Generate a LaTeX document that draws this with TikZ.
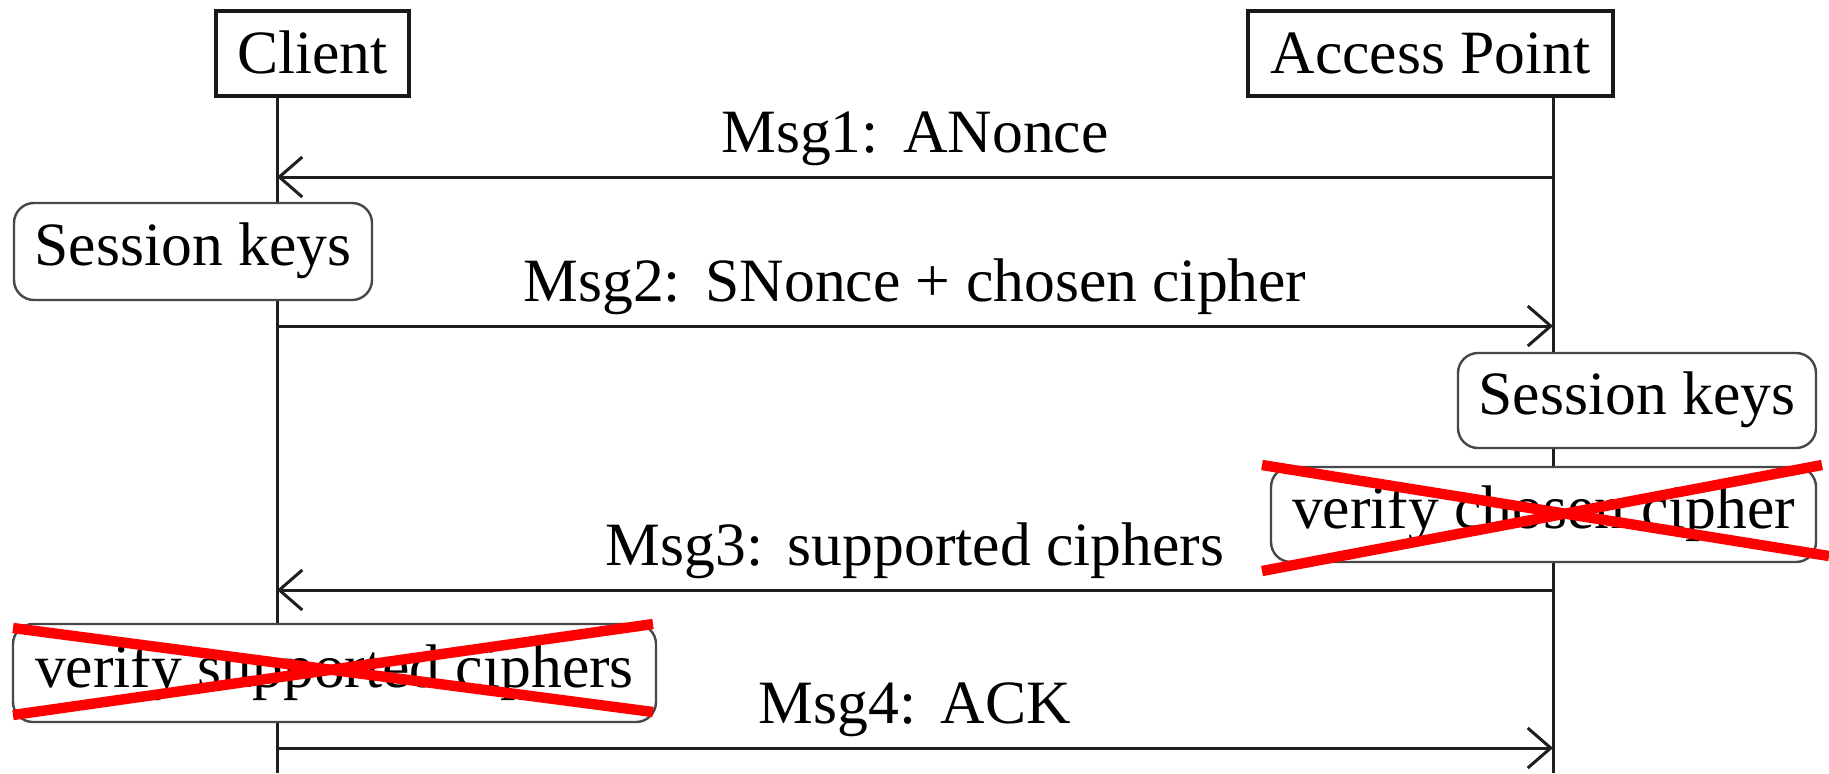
\documentclass[tikz,border=0pt]{standalone}
\usepackage{fontspec}
\setmainfont{Liberation Serif}
\usetikzlibrary{arrows.meta}
\begin{document}
\begin{tikzpicture}[x=0.5pt,y=-0.5pt,
  lbl/.style={font=\fontsize{30.8pt}{36pt}\selectfont},
  header/.style={lbl, draw=black!90, line width=1.6pt, fill=white, inner sep=0pt,
     text height=26.4pt, text depth=6.8pt},
  actbox/.style={lbl, draw=black!72, line width=1.2pt, fill=white, rounded corners=10pt,
     inner sep=0pt, text height=21.6pt, text depth=7.2pt},
  life/.style={draw=black!88, line width=1.5pt},
  msg/.style={draw=black!88, line width=1.5pt, -{Straight Barb[length=11.5pt,width=20pt]}},
  msglbl/.style={lbl, anchor=base, yshift=12.3pt, inner sep=0pt},
  cross/.style={draw=red, line width=5.2pt}
]
\useasboundingbox (0,0) rectangle (1829,773);

% lifeline positions
\coordinate (cl) at (277,0);
\coordinate (al) at (1553,0);
\coordinate (bot) at (0,773);

% header nodes
\node[header, minimum width=96.5pt, minimum height=42.5pt] (client) at (312.5,53.5) {Client};
\node[header, minimum width=182.5pt, minimum height=42.5pt] (ap) at (1430.5,53.5) {Access Point};

% lifelines
\draw[life] (client.south -| cl) -- (cl |- bot);
\draw[life] (ap.south -| al) -- (al |- bot);

% message end points
\coordinate (m1a) at (1553,177); \coordinate (m1c) at (277,177);
\coordinate (m2c) at (277,326);  \coordinate (m2a) at (1553,326);
\coordinate (m3a) at (1553,590); \coordinate (m3c) at (277,590);
\coordinate (m4c) at (277,748);  \coordinate (m4a) at (1553,748);

\draw[msg] (m1a) -- node[msglbl] (l1) {Msg1:\hspace{0.4em}ANonce} (m1c);
\draw[msg] (m2c) -- node[msglbl] (l2) {Msg2:\hspace{0.4em}SNonce + chosen cipher} (m2a);
\draw[msg] (m3a) -- node[msglbl] (l3) {Msg3:\hspace{0.4em}supported ciphers} (m3c);
\draw[msg] (m4c) -- node[msglbl] (l4) {Msg4:\hspace{0.4em}ACK} (m4a);

% activity boxes
\node[actbox, minimum width=179pt, minimum height=48.5pt] (sk1) at (193,251.5) {Session keys};
\node[actbox, minimum width=179pt, minimum height=47.5pt] (sk2) at (1637,400.5) {Session keys};
\node[actbox, minimum width=272.5pt, minimum height=47.5pt] (vcc) at (1543.5,514.5) {verify chosen cipher};
\node[actbox, minimum width=321.5pt, minimum height=49pt] (vsc) at (334.5,673) {verify supported ciphers};

% red crosses
\draw[cross] (13,628) -- (653,712);
\draw[cross] (13,715) -- (653,624);
\draw[cross] (1262,465) -- (1829,556);
\draw[cross] (1262,571) -- (1822,465);
\end{tikzpicture}
\end{document}
